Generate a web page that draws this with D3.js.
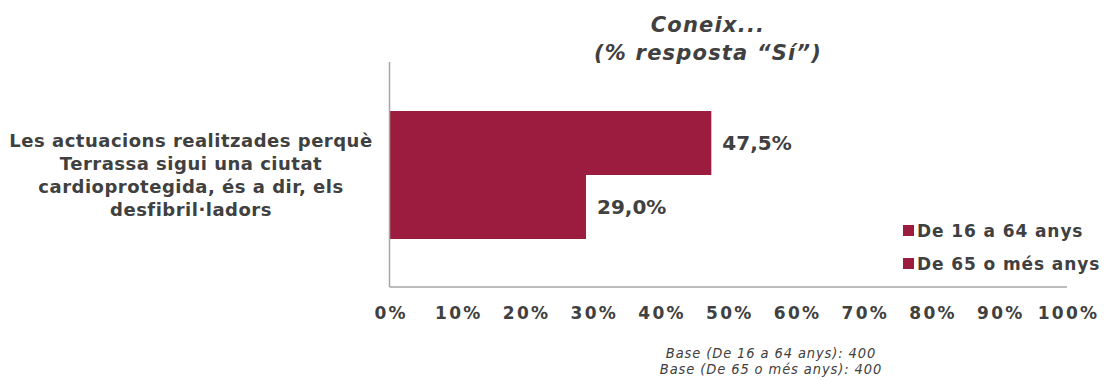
<!DOCTYPE html>
<html>
<head>
<meta charset="utf-8">
<script src="https://cdn.jsdelivr.net/npm/d3@7"></script>
<style>
  body { margin: 0; background: #fff; }
  svg { display: block; font-family: "DejaVu Sans", Verdana, sans-serif; }
</style>
</head>
<body>
<svg width="1105" height="380"></svg>
<script>
// dades
var categoryLines = ["Les actuacions realitzades perquè", "Terrassa sigui una ciutat", "cardioprotegida, és a dir, els", "desfibril·ladors"];
var seriesNames = ["De 16 a 64 anys", "De 65 o més anys"];
var seriesValues = [47.5, 29.0];
var tickValues = [0, 10, 20, 30, 40, 50, 60, 70, 80, 90, 100];
var titleLines = ["Coneix...", "(% resposta “Sí”)"];
var baseLines = ["Base (De 16 a 64 anys): 400", "Base (De 65 o més anys): 400"];

var svg = d3.select("svg");
var barColor = "#9b1c3e", txt = "#404040";

var x = d3.scaleLinear().domain([0, 100]).range([389.5, 1067]);
var y = d3.scaleBand().domain(seriesNames).range([111, 239]);

// titol
svg.append("g").selectAll("text")
  .data(titleLines).enter().append("text")
  .attr("x", 708).attr("y", function(d, i) { return 32 + i * 28; })
  .attr("text-anchor", "middle")
  .attr("font-size", 21).attr("font-weight", "bold").attr("font-style", "italic")
  .attr("letter-spacing", 1.2)
  .attr("fill", txt)
  .text(function(d) { return d; });

// barres
svg.append("g").selectAll("rect")
  .data(seriesValues).enter().append("rect")
  .attr("x", x(0))
  .attr("y", function(d, i) { return y(seriesNames[i]); })
  .attr("width", function(d) { return x(d) - x(0); })
  .attr("height", y.bandwidth())
  .attr("fill", barColor);

// etiquetes de valor
svg.append("g").selectAll("text")
  .data(seriesValues).enter().append("text")
  .attr("x", function(d) { return x(d) + 11; })
  .attr("y", function(d, i) { return y(seriesNames[i]) + y.bandwidth() / 2 + 7; })
  .attr("font-size", 20).attr("font-weight", "bold").attr("fill", txt)
  .text(function(d) { return d3.format(".1f")(d).replace(".", ",") + "%"; });

// eixos
svg.append("line").attr("x1", x(0)).attr("x2", x(0)).attr("y1", 62).attr("y2", 287)
  .attr("stroke", "#a6a6a6").attr("stroke-width", 1.5);
svg.append("line").attr("x1", x(0)).attr("x2", x(100)).attr("y1", 287).attr("y2", 287)
  .attr("stroke", "#a6a6a6").attr("stroke-width", 1.5);

var xAxis = svg.append("g").attr("transform", "translate(0,287)")
  .call(d3.axisBottom(x).tickValues(tickValues).tickSize(0).tickPadding(20)
    .tickFormat(function(d) { return d + "%"; }));
xAxis.select(".domain").remove();
xAxis.selectAll("text")
  .attr("font-family", "DejaVu Sans, Verdana, sans-serif")
  .attr("font-size", 17).attr("font-weight", "bold").attr("letter-spacing", 2.2)
  .attr("dx", 1)
  .attr("fill", txt);

// categoria
svg.append("g").selectAll("text")
  .data(categoryLines).enter().append("text")
  .attr("x", 191).attr("y", function(d, i) { return 147 + i * 23; })
  .attr("text-anchor", "middle")
  .attr("font-size", 18).attr("font-weight", "bold").attr("letter-spacing", 0.5)
  .attr("fill", txt)
  .text(function(d) { return d; });

// llegenda
var legend = svg.append("g").selectAll("g")
  .data(seriesNames).enter().append("g")
  .attr("transform", function(d, i) { return "translate(903," + (225 + i * 33) + ")"; });
legend.append("rect").attr("width", 11).attr("height", 11).attr("fill", barColor);
legend.append("text").attr("x", 14).attr("y", 11.5)
  .attr("font-size", 17).attr("font-weight", "bold").attr("letter-spacing", 0.9)
  .attr("fill", txt)
  .text(function(d) { return d; });

// base
svg.append("g").selectAll("text")
  .data(baseLines).enter().append("text")
  .attr("x", 771).attr("y", function(d, i) { return 358 + i * 16; })
  .attr("text-anchor", "middle")
  .attr("font-family", "DejaVu Sans Condensed, DejaVu Sans, sans-serif")
  .attr("font-stretch", "condensed")
  .attr("font-size", 14.5).attr("font-style", "italic").attr("letter-spacing", 0.9)
  .attr("fill", txt)
  .text(function(d) { return d; });
</script>
</body>
</html>
